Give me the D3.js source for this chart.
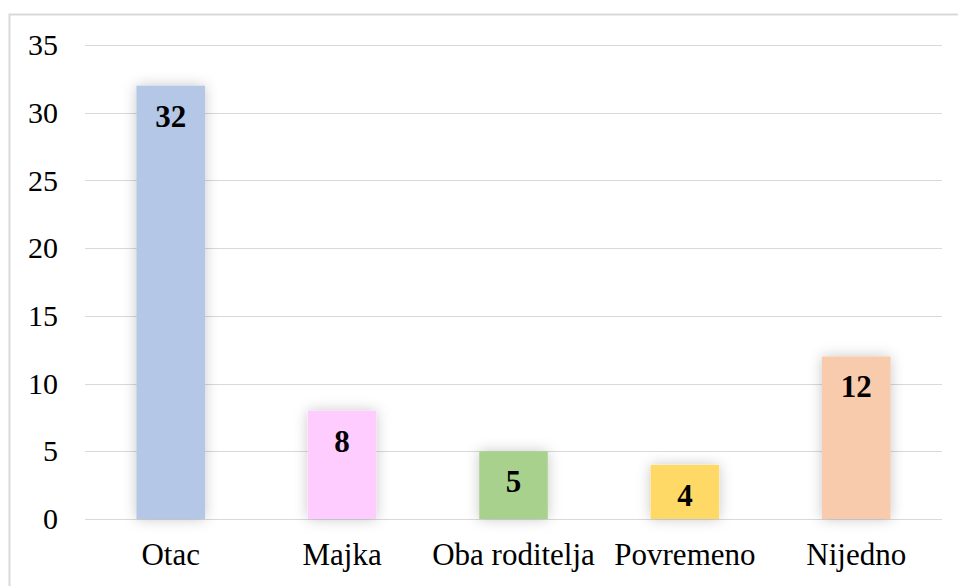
<!DOCTYPE html>
<html>
<head>
<meta charset="utf-8">
<script src="https://cdn.jsdelivr.net/npm/d3@7"></script>
<style>
  body { margin: 0; background: #fff; }
  svg { display: block; }
  svg text { font-family: "Liberation Serif", "Times New Roman", serif !important; }
</style>
</head>
<body>
<div id="chart"></div>
<script>
const categories = ['Otac', 'Majka', 'Oba roditelja', 'Povremeno', 'Nijedno'];
const values = [32, 8, 5, 4, 12];
const colors = ['#b4c7e7', '#ffccff', '#a9d18e', '#ffd966', '#f8cbad'];
const yTicks = [0, 5, 10, 15, 20, 25, 30, 35];

const width = 958, height = 586;
const margin = { top: 45, right: 16, bottom: 67, left: 85 };
const innerW = width - margin.left - margin.right;
const innerH = height - margin.top - margin.bottom;

const svg = d3.select('#chart')
    .append('svg')
    .attr('width', width)
    .attr('height', height);

// Soft shadow around bars
const defs = svg.append('defs');
const filter = defs.append('filter')
    .attr('id', 'shadow')
    .attr('x', '-50%').attr('y', '-50%')
    .attr('width', '200%').attr('height', '200%');
filter.append('feDropShadow')
    .attr('dx', 0).attr('dy', 0)
    .attr('stdDeviation', 7)
    .attr('flood-color', '#000')
    .attr('flood-opacity', 0.22);

// Chart border
svg.append('rect')
    .attr('x', 9.5).attr('y', 14.5)
    .attr('width', width + 10).attr('height', height + 10)
    .attr('fill', 'none')
    .attr('stroke', '#d9d9d9')
    .attr('stroke-width', 2);

const g = svg.append('g')
    .attr('transform', `translate(${margin.left},${margin.top})`);

const x = d3.scaleBand()
    .domain(categories)
    .range([0, innerW])
    .paddingInner(0.6)
    .paddingOuter(0.3);

const y = d3.scaleLinear()
    .domain([0, 35])
    .range([innerH, 0]);

// Gridlines
g.append('g')
    .selectAll('line')
    .data(yTicks)
    .join('line')
    .attr('x1', 0)
    .attr('x2', innerW)
    .attr('y1', d => Math.round(y(d)) + 0.5)
    .attr('y2', d => Math.round(y(d)) + 0.5)
    .attr('stroke', '#d9d9d9')
    .attr('stroke-width', 1);

// Y axis labels
const yAxis = g.append('g')
    .call(d3.axisLeft(y).tickValues(yTicks).tickSize(0).tickPadding(27));
yAxis.select('.domain').remove();
yAxis.selectAll('text')
    .style('font-size', '30px')
    .attr('fill', '#000');

// Bars
g.append('g')
    .selectAll('rect')
    .data(values)
    .join('rect')
    .attr('x', (d, i) => x(categories[i]))
    .attr('y', d => y(d))
    .attr('width', x.bandwidth())
    .attr('height', d => innerH - y(d))
    .attr('fill', (d, i) => colors[i])
    .attr('filter', 'url(#shadow)');

// Value labels
g.append('g')
    .selectAll('text')
    .data(values)
    .join('text')
    .attr('x', (d, i) => x(categories[i]) + x.bandwidth() / 2)
    .attr('y', d => y(d) + 41)
    .attr('text-anchor', 'middle')
    .style('font-size', '31px')
    .attr('font-weight', 'bold')
    .attr('fill', '#000')
    .text(d => d);

// X axis labels
const xAxis = g.append('g')
    .attr('transform', `translate(0,${innerH})`)
    .call(d3.axisBottom(x).tickSize(0).tickPadding(24));
xAxis.select('.domain').remove();
xAxis.selectAll('text')
    .style('font-size', '31px')
    .attr('fill', '#000');
</script>
</body>
</html>
